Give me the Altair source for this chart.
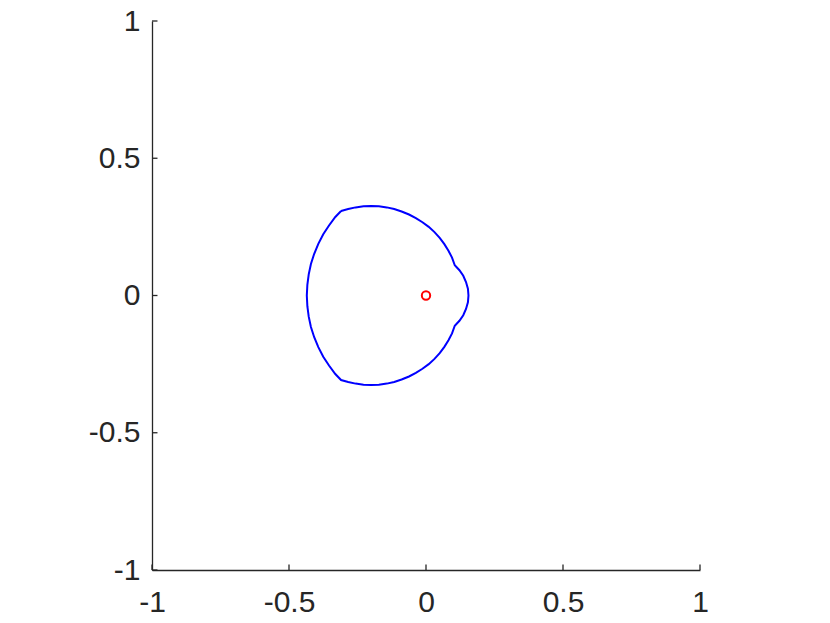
import altair as alt
import pandas as pd

# Boundary curve (closed)
curve_x = [-0.310, -0.284, -0.257, -0.228, -0.200, -0.172, -0.143, -0.116, -0.089, -0.062,
           -0.037, -0.013, 0.010, 0.031, 0.050, 0.067, 0.082, 0.095, 0.105,
           0.122, 0.136, 0.146, 0.153, 0.155, 0.153, 0.146, 0.136, 0.122, 0.105,
           0.095, 0.082, 0.067, 0.050, 0.031, 0.010, -0.013, -0.037, -0.062, -0.089,
           -0.116, -0.143, -0.172, -0.200, -0.228, -0.257, -0.284, -0.310,
           -0.331, -0.354, -0.375, -0.393, -0.408, -0.420, -0.428, -0.433, -0.435,
           -0.433, -0.428, -0.420, -0.408, -0.393, -0.375, -0.354, -0.331, -0.310]
curve_y = [0.308, 0.315, 0.321, 0.325, 0.326, 0.325, 0.321, 0.315, 0.306, 0.295,
           0.282, 0.267, 0.250, 0.231, 0.210, 0.187, 0.163, 0.138, 0.110,
           0.092, 0.072, 0.049, 0.025, 0.000, -0.025, -0.049, -0.072, -0.092, -0.110,
           -0.138, -0.163, -0.187, -0.210, -0.231, -0.250, -0.267, -0.282, -0.295, -0.306,
           -0.315, -0.321, -0.325, -0.326, -0.325, -0.321, -0.315, -0.308,
           -0.286, -0.255, -0.223, -0.188, -0.152, -0.115, -0.077, -0.039, 0.000,
           0.039, 0.077, 0.115, 0.152, 0.188, 0.223, 0.255, 0.286, 0.308]

marker_x = [0.0]
marker_y = [0.0]

tick_values = [-1, -0.5, 0, 0.5, 1]

curve = pd.DataFrame({"x": curve_x, "y": curve_y, "i": list(range(len(curve_x)))})
marker = pd.DataFrame({"x": marker_x, "y": marker_y})
ticks = pd.DataFrame({"v": tick_values, "lo": [-1] * len(tick_values), "hi": [-0.98] * len(tick_values)})

xs = alt.Scale(domain=[-1, 1], nice=False, zero=False)
ys = alt.Scale(domain=[-1, 1], nice=False, zero=False)

label_expr = "(datum.value < 0 ? '-' : '') + toString(abs(datum.value))"

axis_common = dict(values=tick_values, grid=False, ticks=False, domainColor="#262626",
                   domainWidth=1.3, labelFont="Liberation Sans", labelFontSize=30,
                   labelColor="#262626", labelOverlap=False, labelBound=False, title=None,
                   labelExpr=label_expr)

line = alt.Chart(curve).mark_line(color="#0000ff", strokeWidth=2).encode(
    x=alt.X("x:Q", scale=xs, axis=alt.Axis(labelFlush=False, labelPadding=17, **axis_common)),
    y=alt.Y("y:Q", scale=ys, axis=alt.Axis(labelPadding=12, **axis_common)),
    order="i:Q",
)

point = alt.Chart(marker).mark_point(shape="circle", filled=False, color="#ff0000",
                                     size=70, strokeWidth=2, opacity=1).encode(
    x=alt.X("x:Q", scale=xs), y=alt.Y("y:Q", scale=ys))

xticks = alt.Chart(ticks).mark_rule(color="#262626", strokeWidth=1.3).encode(
    x=alt.X("v:Q", scale=xs), y=alt.Y("lo:Q", scale=ys), y2="hi:Q")
yticks = alt.Chart(ticks).mark_rule(color="#262626", strokeWidth=1.3).encode(
    y=alt.Y("v:Q", scale=ys), x=alt.X("lo:Q", scale=xs), x2="hi:Q")

chart = alt.layer(line, point, xticks, yticks).properties(
    width=548, height=549,
    autosize=alt.AutoSizeParams(type="none"),
    padding={"left": 144, "top": 13, "right": 60, "bottom": 50},
).configure_view(stroke=None)

chart.save("out.html", embed_options={"renderer": "svg", "actions": False})
